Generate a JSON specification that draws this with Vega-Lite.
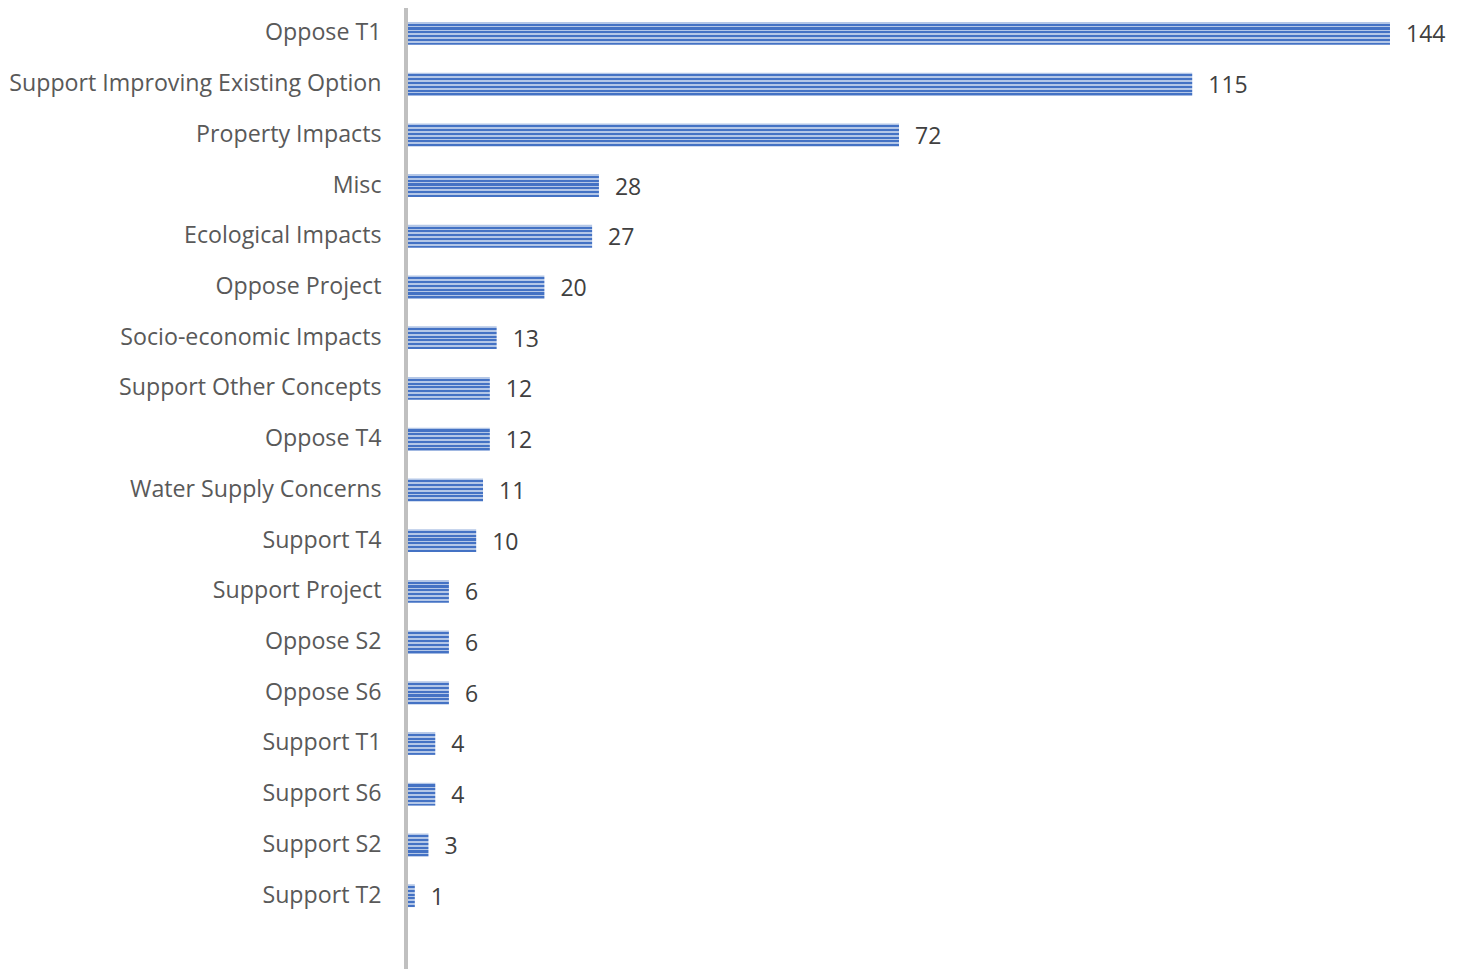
{
  "$schema": "https://vega.github.io/schema/vega-lite/v6.json",
  "autosize": "none",
  "padding": {"left": 408, "top": 8, "right": 0, "bottom": 0},
  "width": 1057,
  "height": 961,
  "background": "white",
  "config": {"view": {"stroke": null}, "font": "Open Sans"},
  "data": {"values": [
    {"topic": "Oppose T1", "count": 144},
    {"topic": "Support Improving Existing Option", "count": 115},
    {"topic": "Property Impacts", "count": 72},
    {"topic": "Misc", "count": 28},
    {"topic": "Ecological Impacts", "count": 27},
    {"topic": "Oppose Project", "count": 20},
    {"topic": "Socio-economic Impacts", "count": 13},
    {"topic": "Support Other Concepts", "count": 12},
    {"topic": "Oppose T4", "count": 12},
    {"topic": "Water Supply Concerns", "count": 11},
    {"topic": "Support T4", "count": 10},
    {"topic": "Support Project", "count": 6},
    {"topic": "Oppose S2", "count": 6},
    {"topic": "Oppose S6", "count": 6},
    {"topic": "Support T1", "count": 4},
    {"topic": "Support S6", "count": 4},
    {"topic": "Support S2", "count": 3},
    {"topic": "Support T2", "count": 1}
  ]},
  "encoding": {
    "y": {
      "field": "topic", "type": "nominal", "sort": null,
      "scale": {"range": [0, 913], "paddingInner": 0.55, "paddingOuter": 0.275},
      "axis": {"title": null, "domain": false, "ticks": false, "labelPadding": 27, "labelFontSize": 23.2, "labelColor": "#595959", "labelFont": "Open Sans", "labelLimit": 420}
    },
    "x": {
      "field": "count", "type": "quantitative",
      "scale": {"domain": [0, 155], "nice": false},
      "axis": null
    }
  },
  "layer": [
    {
      "mark": {"type": "rule", "color": "#c0c0c0", "strokeWidth": 3, "xOffset": -2},
      "encoding": {"x": {"datum": 0}, "y": null}
    },
    {
      "mark": {"type": "bar", "color": {
        "gradient": "linear", "x1": 0, "y1": 0, "x2": 0, "y2": 1,
        "stops": [
          {"offset": 0, "color": "#b4c7e7"}, {"offset": 0.075, "color": "#b4c7e7"}, {"offset": 0.075, "color": "#4472c4"}, {"offset": 0.1667, "color": "#4472c4"},
          {"offset": 0.1667, "color": "#b4c7e7"}, {"offset": 0.2417, "color": "#b4c7e7"}, {"offset": 0.2417, "color": "#4472c4"}, {"offset": 0.3333, "color": "#4472c4"},
          {"offset": 0.3333, "color": "#b4c7e7"}, {"offset": 0.4083, "color": "#b4c7e7"}, {"offset": 0.4083, "color": "#4472c4"}, {"offset": 0.5, "color": "#4472c4"},
          {"offset": 0.5, "color": "#b4c7e7"}, {"offset": 0.575, "color": "#b4c7e7"}, {"offset": 0.575, "color": "#4472c4"}, {"offset": 0.6667, "color": "#4472c4"},
          {"offset": 0.6667, "color": "#b4c7e7"}, {"offset": 0.7417, "color": "#b4c7e7"}, {"offset": 0.7417, "color": "#4472c4"}, {"offset": 0.8333, "color": "#4472c4"},
          {"offset": 0.8333, "color": "#b4c7e7"}, {"offset": 0.9083, "color": "#b4c7e7"}, {"offset": 0.9083, "color": "#4472c4"}, {"offset": 1, "color": "#4472c4"}
        ]
      }}
    },
    {
      "mark": {"type": "text", "align": "left", "baseline": "middle", "dx": 16, "dy": 2, "fontSize": 23, "color": "#404040", "font": "Open Sans"},
      "encoding": {"text": {"field": "count", "type": "quantitative"}}
    }
  ]
}
